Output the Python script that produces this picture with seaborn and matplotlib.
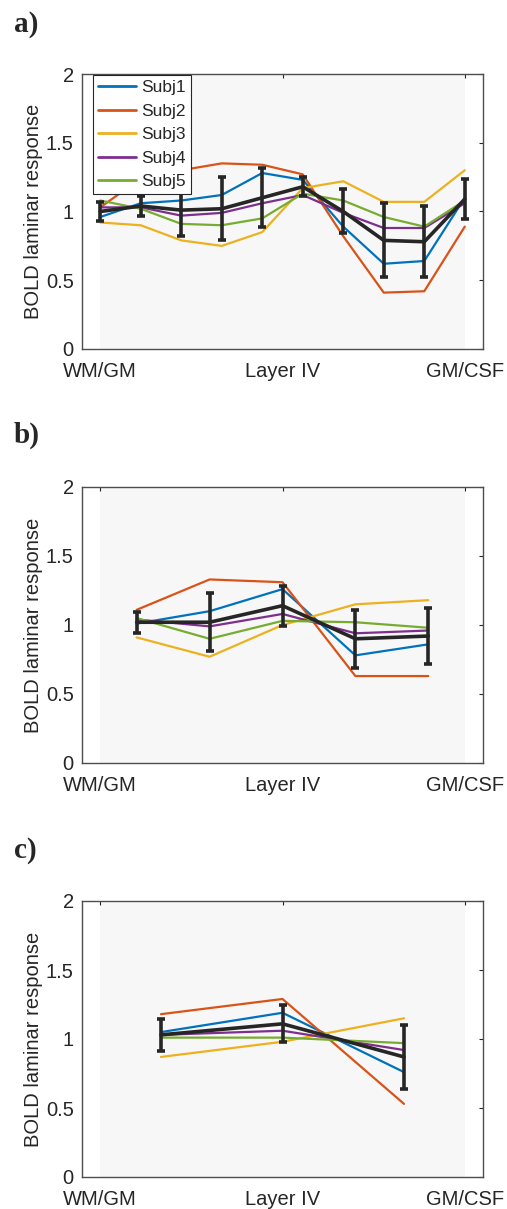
import numpy as np
import pandas as pd
import matplotlib
matplotlib.use("Agg")
import matplotlib.pyplot as plt
import seaborn as sns

sns.set_style("white")
plt.rcParams['font.family'] = ['Liberation Sans', 'DejaVu Sans']

subjects = ["Subj1", "Subj2", "Subj3", "Subj4", "Subj5"]
colors = ["#0072BD", "#D95319", "#EDB120", "#7E2F8E", "#77AC30"]
tick_labels = ["WM/GM", "Layer IV", "GM/CSF"]
panel_labels = ["a)", "b)", "c)"]

# Panel a: 10 depth bins
depth_a = [0/9, 1/9, 2/9, 3/9, 4/9, 5/9, 6/9, 7/9, 8/9, 9/9]
a_subj1 = [0.96, 1.06, 1.08, 1.12, 1.28, 1.23, 0.89, 0.62, 0.64, 1.10]
a_subj2 = [1.03, 1.24, 1.30, 1.35, 1.34, 1.27, 0.82, 0.41, 0.42, 0.89]
a_subj3 = [0.92, 0.90, 0.79, 0.75, 0.85, 1.17, 1.22, 1.07, 1.07, 1.30]
a_subj4 = [1.03, 1.03, 0.97, 0.99, 1.06, 1.12, 0.99, 0.88, 0.88, 1.06]
a_subj5 = [1.08, 1.02, 0.91, 0.90, 0.95, 1.13, 1.08, 0.96, 0.89, 1.08]
a_mean = [1.00, 1.04, 1.01, 1.02, 1.10, 1.18, 1.00, 0.79, 0.78, 1.09]
a_err = [0.066, 0.07, 0.19, 0.23, 0.215, 0.07, 0.16, 0.27, 0.26, 0.148]

# Panel b: 5 depth bins
depth_b = [0.1, 0.3, 0.5, 0.7, 0.9]
b_subj1 = [1.01, 1.10, 1.26, 0.78, 0.86]
b_subj2 = [1.11, 1.33, 1.31, 0.63, 0.63]
b_subj3 = [0.91, 0.77, 1.00, 1.15, 1.18]
b_subj4 = [1.04, 0.99, 1.08, 0.94, 0.96]
b_subj5 = [1.05, 0.90, 1.03, 1.02, 0.98]
b_mean = [1.02, 1.02, 1.14, 0.90, 0.92]
b_err = [0.075, 0.212, 0.145, 0.21, 0.20]

# Panel c: 3 depth bins
depth_c = [1/6, 1/2, 5/6]
c_subj1 = [1.05, 1.19, 0.76]
c_subj2 = [1.18, 1.29, 0.53]
c_subj3 = [0.87, 0.98, 1.15]
c_subj4 = [1.03, 1.06, 0.92]
c_subj5 = [1.01, 1.01, 0.97]
c_mean = [1.03, 1.11, 0.87]
c_err = [0.114, 0.133, 0.235]

panels = [
    (depth_a, [a_subj1, a_subj2, a_subj3, a_subj4, a_subj5], a_mean, a_err),
    (depth_b, [b_subj1, b_subj2, b_subj3, b_subj4, b_subj5], b_mean, b_err),
    (depth_c, [c_subj1, c_subj2, c_subj3, c_subj4, c_subj5], c_mean, c_err),
]

W, H = 507, 1209
fig = plt.figure(figsize=(W / 100, H / 100), dpi=100)

ax_tops = [74, 487, 901]
ax_bottoms = [349, 763, 1177]
left_px, right_px = 82, 483
label_base = [32, 443, 858]

for i, (depth, subj_vals, mean_vals, err_vals) in enumerate(panels):
    top, bot = ax_tops[i], ax_bottoms[i]
    ax = fig.add_axes([left_px / W, 1 - bot / H, (right_px - left_px) / W, (bot - top) / H])
    ax.axvspan(0, 1, color="#F7F7F7", zorder=0, lw=0)

    rows = []
    for s, vals in zip(subjects, subj_vals):
        for d, v in zip(depth, vals):
            rows.append({"depth": d, "value": v, "subject": s})
    df = pd.DataFrame(rows)
    sns.lineplot(data=df, x="depth", y="value", hue="subject", palette=colors,
                 hue_order=subjects, linewidth=1.6, ax=ax, legend=(i == 0),
                 zorder=2)
    ax.errorbar(depth, mean_vals, yerr=err_vals, color="#262626", lw=2.6,
                elinewidth=2.6, capsize=2.6, capthick=2.6, zorder=3)

    ax.set_xlim(-0.05, 1.05)
    ax.set_ylim(0, 2)
    ax.set_xticks([0, 0.5, 1])
    ax.set_xticklabels(tick_labels)
    ax.set_yticks([0, 0.5, 1, 1.5, 2])
    ax.set_yticklabels(["0", "0.5", "1", "1.5", "2"])
    ax.set_xlabel("")
    ax.set_ylabel("BOLD laminar response", fontsize=14.5, color="#262626", labelpad=2)
    ax.tick_params(direction="in", top=True, right=True, length=3, width=0.8,
                   labelsize=14.5, colors="#262626")
    ax.tick_params(axis="x", pad=9.5)
    ax.tick_params(axis="y", pad=6)
    for sp in ax.spines.values():
        sp.set_visible(True)
        sp.set_color("#4d4d4d")
        sp.set_linewidth(1.0)

    if i == 0:
        leg = ax.legend(loc="upper left", bbox_to_anchor=(0.027, 0.997), fontsize=12.5,
                        frameon=True, fancybox=False, framealpha=1,
                        edgecolor="#262626", handlelength=2.2, handletextpad=0.3,
                        borderpad=0.3, labelspacing=0.48, borderaxespad=0.0)
        leg.get_frame().set_linewidth(0.8)
        for line in leg.get_lines():
            line.set_linewidth(2.0)
        leg.set_zorder(5)

    fig.text(14 / W, 1 - label_base[i] / H, panel_labels[i], family="Liberation Serif",
             fontweight="bold", fontsize=21, ha="left", va="baseline")

fig.savefig("out.png", dpi=100)
